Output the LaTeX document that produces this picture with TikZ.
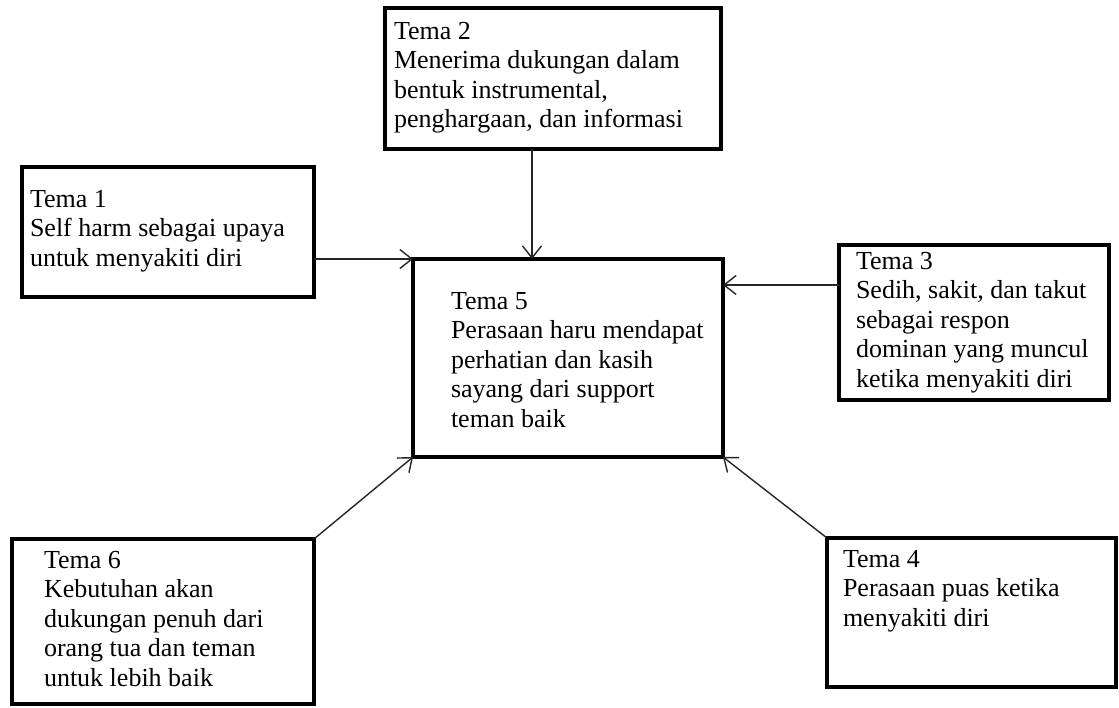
\documentclass[tikz,border=0pt]{standalone}
\usepackage{fontspec}
\setmainfont{Liberation Serif}
\usetikzlibrary{arrows.meta}
\newcommand\txtlines[1]{\fontsize{26}{29.5}\selectfont\begin{tabular}[t]{@{}l@{}}#1\end{tabular}}
\tikzset{
  box/.style={draw, line width=4pt, rectangle, inner sep=0pt, outer sep=0pt, miter limit=10},
  txt/.style={anchor=base west, inner sep=0pt, outer sep=0pt},
  arr/.style={line width=1.4pt, draw=black!85, -{Straight Barb[length=12pt,width=19pt,line width=1.4pt]}}
}
\begin{document}
\begin{tikzpicture}[x=1pt,y=-1pt]
\useasboundingbox (0,0) rectangle (1119,707);
% boxes
\node[box, minimum width=336pt, minimum height=141pt] (t2) at (553,78.5) {};
\node[box, minimum width=292pt, minimum height=130pt] (t1) at (168,232) {};
\node[box, minimum width=310pt, minimum height=198pt] (t5) at (568,358) {};
\node[box, minimum width=270pt, minimum height=155pt] (t3) at (974,322.5) {};
\node[box, minimum width=302pt, minimum height=165pt] (t6) at (163,621.5) {};
\node[box, minimum width=289pt, minimum height=149pt] (t4) at (971.5,612.5) {};
% texts
\node[txt] (x2) at (394,39) {\txtlines{Tema 2\\Menerima dukungan dalam\\bentuk instrumental,\\penghargaan, dan informasi}};
\node[txt] (x1) at (30,207) {\txtlines{Tema 1\\Self harm sebagai upaya\\untuk menyakiti diri}};
\node[txt] (x5) at (451,309) {\txtlines{Tema 5\\Perasaan haru mendapat\\perhatian dan kasih\\sayang dari support\\teman baik}};
\node[txt] (x3) at (856,269) {\txtlines{Tema 3\\Sedih, sakit, dan takut\\sebagai respon\\dominan yang muncul\\ketika menyakiti diri}};
\node[txt] (x6) at (44,568) {\txtlines{Tema 6\\Kebutuhan akan\\dukungan penuh dari\\orang tua dan teman\\untuk lebih baik}};
\node[txt] (x4) at (843,567) {\txtlines{Tema 4\\Perasaan puas ketika\\menyakiti diri}};
% connectors
\coordinate (a2) at (532,149);
\coordinate (a3) at (839,285);
\draw[arr] (t1.east |- t5.north west) -- (t5.north west);
\draw[arr] (a2) -- (a2 |- t5.north);
\draw[arr] (a3) -- (a3 -| t5.east);
\draw[arr] (t6.north east) -- (t5.south west);
\draw[arr] (t4.north west) -- (t5.south east);
\end{tikzpicture}
\end{document}
